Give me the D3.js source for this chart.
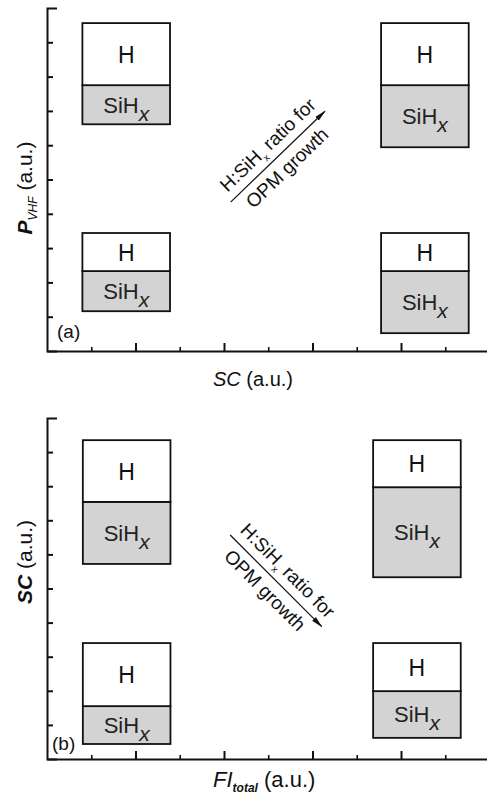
<!DOCTYPE html>
<html><head><meta charset="utf-8">
<script src="https://cdn.jsdelivr.net/npm/d3@7"></script>
<style>
html,body{margin:0;padding:0;background:#fff;}
svg{display:block;font-family:"Liberation Sans",Arial,Helvetica,sans-serif;}
</style></head><body>
<svg id="chart" width="487" height="797"></svg>
<script>
// ---------- DATA (axis units, a.u.) ----------
// Panel (a): P_VHF vs SC
const categoriesA = ["low SC / high P", "high SC / high P", "low SC / low P", "high SC / low P"];
const boxLeftA = [0.8, 7.55, 0.8, 7.55];
const boxTopA = [9.56, 9.56, 3.44, 3.44];
const hAmountA = [1.81, 1.81, 1.11, 1.11];
const sihAmountA = [1.14, 1.81, 1.17, 1.81];
const arrowA = [[4.15, 4.34], [6.28, 6.99]];

// Panel (b): SC vs FI_total
const categoriesB = ["low FI / high SC", "high FI / high SC", "low FI / low SC", "high FI / low SC"];
const boxLeftB = [0.81, 7.37, 0.81, 7.37];
const boxTopB = [9.35, 9.35, 3.40, 3.40];
const hAmountB = [1.81, 1.38, 1.85, 1.41];
const sihAmountB = [1.82, 2.64, 1.11, 1.37];
const arrowB = [[4.14, 6.57], [6.21, 3.88]];

const boxSpan = 1.98;
const yTickValues = [1, 2, 3, 4, 5, 6, 7, 8, 9];
const xMajorTicks = [2, 4, 6, 8];
const xMinorTicks = [1, 3, 5, 7, 9];

// ---------- DRAW ----------
const svg = d3.select("#chart");

const defs = svg.append("defs");
defs.append("marker").attr("id", "arrowhead")
  .attr("viewBox", "0 -4 12 8").attr("refX", 11).attr("refY", 0)
  .attr("markerWidth", 12).attr("markerHeight", 8)
  .attr("markerUnits", "userSpaceOnUse").attr("orient", "auto")
  .append("path").attr("d", "M0,-2.6L12,0L0,2.6Z").attr("fill", "#111");

const panels = [
  { id: "a", yRange: [351, 8], cats: categoriesA, left: boxLeftA, top: boxTopA, h: hAmountA, s: sihAmountA, arrow: arrowA, tag: "(a)", tagPos: [57, 338] },
  { id: "b", yRange: [759, 418], cats: categoriesB, left: boxLeftB, top: boxTopB, h: hAmountB, s: sihAmountB, arrow: arrowB, tag: "(b)", tagPos: [52, 750] }
];

panels.forEach(p => {
  const x = d3.scaleLinear().domain([0, 10]).range([47, 489.5]);
  const y = d3.scaleLinear().domain([0, 10]).range(p.yRange);
  const g = svg.append("g");

  // boxes
  const data = p.cats.map((c, i) => ({ c, left: p.left[i], top: p.top[i], h: p.h[i], s: p.s[i] }));
  const box = g.selectAll("g.box").data(data).join("g").attr("class", "box");
  box.append("rect")
    .attr("x", d => x(d.left)).attr("width", d => x(d.left + boxSpan) - x(d.left))
    .attr("y", d => y(d.top - d.h)).attr("height", d => y(d.top - d.h - d.s) - y(d.top - d.h))
    .attr("fill", "#d3d3d3").attr("stroke", "#111").attr("stroke-width", 1.8);
  box.append("rect")
    .attr("x", d => x(d.left)).attr("width", d => x(d.left + boxSpan) - x(d.left))
    .attr("y", d => y(d.top)).attr("height", d => y(d.top - d.h) - y(d.top))
    .attr("fill", "#fff").attr("stroke", "#111").attr("stroke-width", 1.8);
  box.append("text")
    .attr("x", d => x(d.left + boxSpan / 2))
    .attr("y", d => (y(d.top) + y(d.top - d.h)) / 2 + 8.5)
    .attr("text-anchor", "middle").attr("font-size", 23).attr("fill", "#111").text("H");
  const st = box.append("text")
    .attr("x", d => x(d.left + boxSpan / 2))
    .attr("y", d => (y(d.top - d.h) + y(d.top - d.h - d.s)) / 2 + 8)
    .attr("text-anchor", "middle").attr("font-size", 22).attr("fill", "#222");
  st.append("tspan").text("SiH");
  st.append("tspan").attr("dy", 8).attr("font-style", "italic").attr("font-size", 21).text("x");

  // y axis (ticks inward)
  g.append("g").attr("transform", `translate(${x(0)},0)`)
    .call(d3.axisRight(y).tickValues(yTickValues).tickSize(6).tickSizeOuter(10).tickFormat(""))
    .call(a => a.selectAll("path,line").attr("stroke", "#111").attr("stroke-width", 2));
  // x axis (ticks inward)
  g.append("g").attr("transform", `translate(0,${y(0)})`)
    .call(d3.axisTop(x).tickValues(xMajorTicks).tickSize(8).tickSizeOuter(0).tickFormat(""))
    .call(a => a.selectAll("path,line").attr("stroke", "#111").attr("stroke-width", 2));
  g.append("g").attr("transform", `translate(0,${y(0)})`)
    .call(d3.axisTop(x).tickValues(xMinorTicks).tickSize(4).tickSizeOuter(0).tickFormat(""))
    .call(a => a.select(".domain").remove())
    .call(a => a.selectAll("line").attr("stroke", "#111").attr("stroke-width", 1.6));

  // panel tag
  g.append("text").attr("x", p.tagPos[0]).attr("y", p.tagPos[1])
    .attr("font-size", 19).attr("fill", "#111").text(p.tag);

  // arrow annotation
  const [s0, s1] = p.arrow;
  const x0 = x(s0[0]), y0 = y(s0[1]), x1 = x(s1[0]), y1 = y(s1[1]);
  g.append("line").attr("x1", x0).attr("y1", y0).attr("x2", x1).attr("y2", y1)
    .attr("stroke", "#111").attr("stroke-width", 1.2).attr("marker-end", "url(#arrowhead)");
  const ang = Math.atan2(y1 - y0, x1 - x0) * 180 / Math.PI;
  const mx = (x0 + x1) / 2, my = (y0 + y1) / 2;
  const ag = g.append("g").attr("transform", `translate(${mx},${my}) rotate(${ang})`);
  const t1 = ag.append("text").attr("x", 1).attr("y", -9).attr("text-anchor", "middle")
    .attr("font-size", 19).attr("fill", "#111");
  t1.append("tspan").text("H:SiH");
  t1.append("tspan").attr("font-size", 10).attr("dy", 5).text("x");
  t1.append("tspan").attr("dy", -5).text(" ratio for");
  ag.append("text").attr("x", -1).attr("y", 21).attr("text-anchor", "middle")
    .attr("font-size", 19).attr("fill", "#111").text("OPM growth");
});

// axis titles
const xt1 = svg.append("text").attr("x", 253).attr("y", 386).attr("text-anchor", "middle")
  .attr("font-size", 20).attr("fill", "#111");
xt1.append("tspan").attr("font-style", "italic").text("SC");
xt1.append("tspan").text(" (a.u.)");

const xt2 = svg.append("text").attr("x", 213).attr("y", 787).attr("font-size", 22).attr("fill", "#111");
xt2.append("tspan").attr("font-style", "italic").text("FI");
xt2.append("tspan").attr("font-style", "italic").attr("font-weight", "bold").attr("font-size", 12).attr("dy", 5).text("total");
xt2.append("tspan").attr("dy", -5).text(" (a.u.)");

const yt1 = svg.append("text").attr("transform", "translate(32,188) rotate(-90)")
  .attr("text-anchor", "middle").attr("font-size", 21).attr("fill", "#111");
yt1.append("tspan").attr("font-style", "italic").attr("font-weight", "bold").text("P");
yt1.append("tspan").attr("font-style", "italic").attr("font-size", 12).attr("dy", 5).text("VHF");
yt1.append("tspan").attr("dy", -5).text(" (a.u.)");

const yt2 = svg.append("text").attr("transform", "translate(32,562) rotate(-90)")
  .attr("text-anchor", "middle").attr("font-size", 21).attr("fill", "#111");
yt2.append("tspan").attr("font-style", "italic").attr("font-weight", "bold").text("SC");
yt2.append("tspan").text(" (a.u.)");
</script>
</body></html>
